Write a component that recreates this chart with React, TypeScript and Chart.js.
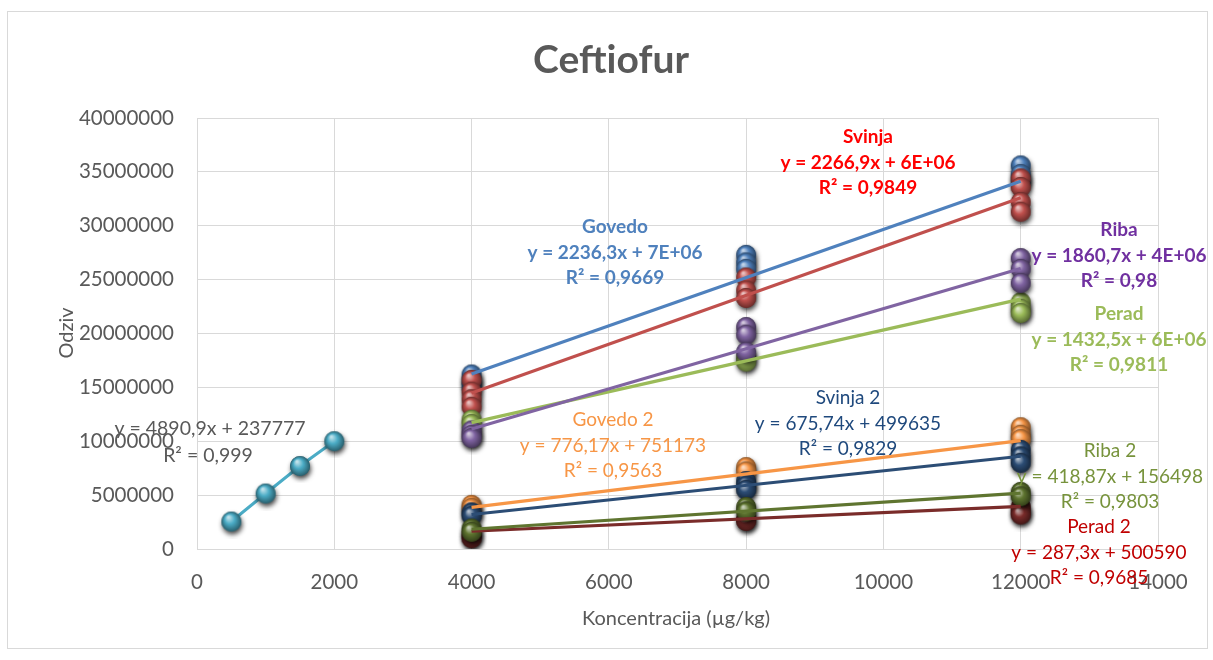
import React, { useEffect, useRef } from "react";
import { Chart, registerables } from "chart.js";
Chart.register(...registerables);

// ---- data ----
const concentrations = [4000, 8000, 12000];
const seriesNames = ["Govedo", "Svinja", "Riba", "Perad", "Govedo 2", "Svinja 2", "Riba 2", "Perad 2"];
// replicate responses at each concentration (4000, 8000, 12000)
const govedo = [[16.2e6, 15.6e6, 15.1e6], [27.3e6, 26.6e6, 26.0e6], [35.6e6, 34.8e6, 34.2e6]];
const svinja = [[15.7e6, 14.6e6, 13.9e6, 13.2e6], [25.2e6, 24.0e6, 23.3e6], [34.4e6, 33.6e6, 32.2e6, 31.3e6]];
const riba = [[11.0e6, 10.6e6, 10.3e6], [20.6e6, 19.9e6, 18.3e6], [27.0e6, 26.0e6, 24.7e6]];
const perad = [[12.0e6, 11.6e6], [17.8e6, 17.4e6], [22.9e6, 22.3e6, 21.9e6]];
const govedo2 = [[4.1e6, 3.8e6], [7.6e6, 7.2e6], [11.3e6, 10.6e6, 10.2e6]];
const svinja2 = [[3.4e6, 3.1e6], [6.3e6, 5.9e6, 5.5e6], [9.2e6, 8.6e6, 8.0e6]];
const riba2 = [[1.9e6, 1.6e6], [3.9e6, 3.5e6], [5.3e6, 4.9e6]];
const perad2 = [[1.3e6, 1.0e6], [2.8e6, 2.6e6], [3.9e6, 3.5e6, 3.2e6]];
const seriesValues = [govedo, svinja, riba, perad, govedo2, svinja2, riba2, perad2];

const trendSlopes = [2236.3, 2266.9, 1860.7, 1432.5, 776.17, 675.74, 418.87, 287.3];
const trendIntercepts = [7.3e6, 5.4e6, 3.7e6, 6.0e6, 751173, 499635, 156498, 500590];
const trendR2 = ["0,9669", "0,9849", "0,98", "0,9811", "0,9563", "0,9829", "0,9803", "0,9685"];
const trendEquations = [
  "y = 2236,3x + 7E+06",
  "y = 2266,9x + 6E+06",
  "y = 1860,7x + 4E+06",
  "y = 1432,5x + 6E+06",
  "y = 776,17x + 751173",
  "y = 675,74x + 499635",
  "y = 418,87x + 156498",
  "y = 287,3x + 500590",
];

const calX = [500, 1000, 1500, 2000];
const calY = [2.55e6, 5.15e6, 7.7e6, 10.0e6];
const calEquation = "y = 4890,9x + 237777";
const calR2 = "0,999";

const xTicks = [0, 2000, 4000, 6000, 8000, 10000, 12000, 14000];
const yTicks = [0, 5e6, 10e6, 15e6, 20e6, 25e6, 30e6, 35e6, 40e6];

// ---- styles ----
const markerColors = ["#4F81BD", "#C0504D", "#8064A2", "#9BBB59", "#F79646", "#2C4D75", "#5F7530", "#7A2C2A"];
const labelColors = ["#4F81BD", "#FF0000", "#7030A0", "#9BBB59", "#F79646", "#1F497D", "#77933C", "#C00000"];
const labelBold = [true, true, true, true, false, false, false, false];
// drawing order of marker series (lower = drawn later, on top)
const markerOrder = [10, 9, 7, 8, 6, 5, 3, 4];
// label centre x and first line centre y (pixels)
const labelPos = [
  [615, 227], [868, 137], [1119, 230], [1119, 314],
  [613, 420], [848, 398], [1110, 451], [1099, 527],
];
const FONT = "Lato, 'Open Sans', sans-serif";
const TEXT = "#595959";

function shade(hex: string, f: number) {
  const n = parseInt(hex.slice(1), 16);
  let r = (n >> 16) & 255, g = (n >> 8) & 255, b = n & 255;
  if (f >= 0) { r += (255 - r) * f; g += (255 - g) * f; b += (255 - b) * f; }
  else { r *= 1 + f; g *= 1 + f; b *= 1 + f; }
  return `rgb(${Math.round(r)},${Math.round(g)},${Math.round(b)})`;
}

function sphere(color: string, r: number) {
  const pad = 7;
  const size = Math.ceil(2 * (r + pad));
  const c = document.createElement("canvas");
  c.width = size; c.height = size;
  const g = c.getContext("2d")!;
  const cx = size / 2, cy = size / 2;
  g.save();
  g.shadowColor = "rgba(0,0,0,0.75)";
  g.shadowBlur = 5; g.shadowOffsetX = 1; g.shadowOffsetY = 3;
  g.beginPath(); g.arc(cx, cy, r, 0, Math.PI * 2); g.fillStyle = shade(color, -0.4); g.fill();
  g.restore();
  const grad = g.createRadialGradient(cx - r * 0.3, cy - r * 0.45, r * 0.08, cx, cy, r);
  grad.addColorStop(0, shade(color, 0.65));
  grad.addColorStop(0.45, color);
  grad.addColorStop(1, shade(color, -0.45));
  g.beginPath(); g.arc(cx, cy, r, 0, Math.PI * 2); g.fillStyle = grad; g.fill();
  return c;
}

export default function App() {
  const ref = useRef<HTMLCanvasElement>(null);
  useEffect(() => {
    document.body.style.margin = "0";
    document.body.style.overflow = "hidden";
    const datasets: any[] = [];
    seriesValues.forEach((vals, i) => {
      const pts: { x: number; y: number }[] = [];
      vals.forEach((reps, j) => reps.forEach((v) => pts.push({ x: concentrations[j], y: v })));
      datasets.push({
        label: seriesNames[i],
        data: pts,
        pointStyle: sphere(markerColors[i], 10),
        pointRadius: 10,
        showLine: false,
        order: markerOrder[i],
      });
      const x0 = concentrations[0], x1 = concentrations[concentrations.length - 1];
      datasets.push({
        label: seriesNames[i] + " trend",
        data: [
          { x: x0, y: trendSlopes[i] * x0 + trendIntercepts[i] },
          { x: x1, y: trendSlopes[i] * x1 + trendIntercepts[i] },
        ],
        showLine: true,
        borderColor: markerColors[i],
        borderWidth: 3.2,
        pointRadius: 0,
        order: 1,
      });
    });
    datasets.push({
      label: "Kalibracija",
      data: calX.map((x, k) => ({ x, y: calY[k] })),
      showLine: true,
      borderColor: "#4BACC6",
      borderWidth: 3,
      pointStyle: sphere("#4BACC6", 10),
      pointRadius: 10,
      order: 0,
    });

    const textPlugin = {
      id: "texts",
      afterDraw(chart: any) {
        const ctx = chart.ctx as CanvasRenderingContext2D;
        ctx.save();
        ctx.strokeStyle = "#D9D9D9";
        ctx.lineWidth = 1;
        ctx.strokeRect(7.5, 11.5, 1200, 637);
        ctx.textAlign = "center";
        ctx.textBaseline = "middle";
        ctx.fillStyle = TEXT;
        ctx.font = `bold 39px ${FONT}`;
        ctx.fillText("Ceftiofur", 611, 60);
        ctx.font = `20px ${FONT}`;
        ctx.fillText("Koncentracija (µg/kg)", 676, 619);
        ctx.save();
        ctx.translate(67, 333);
        ctx.rotate(-Math.PI / 2);
        ctx.fillText("Odziv", 0, 0);
        ctx.restore();
        // calibration label
        ctx.fillStyle = TEXT;
        ctx.font = `19.5px ${FONT}`;
        ctx.fillText(calEquation, 210, 429);
        ctx.fillText("R² = " + calR2, 208, 456);
        seriesNames.forEach((name, i) => {
          const [cx, cy] = labelPos[i];
          ctx.fillStyle = labelColors[i];
          ctx.font = `${labelBold[i] ? "bold " : ""}19px ${FONT}`;
          ctx.fillText(name, cx, cy);
          ctx.fillText(trendEquations[i], cx, cy + 25.5);
          ctx.fillText("R² = " + trendR2[i], cx, cy + 51);
        });
        ctx.restore();
      },
    };

    const chart = new Chart(ref.current!, {
      type: "scatter",
      data: { datasets },
      options: {
        animation: false,
        responsive: false,
        layout: { padding: { left: 0, right: 55, top: 118, bottom: 0 } },
        plugins: { legend: { display: false }, tooltip: { enabled: false } },
        scales: {
          x: {
            type: "linear",
            min: 0,
            max: 14000,
            afterBuildTicks: (s: any) => { s.ticks = xTicks.map((v) => ({ value: v })); },
            afterFit: (s: any) => { s.height = 111; },
            ticks: { color: TEXT, font: { family: FONT, size: 20.5 }, padding: 21, callback: (v: any) => String(v) },
            grid: { color: "#D9D9D9", lineWidth: 1, drawTicks: false },
            border: { color: "#D9D9D9" },
          },
          y: {
            type: "linear",
            min: 0,
            max: 40000000,
            afterBuildTicks: (s: any) => { s.ticks = yTicks.map((v) => ({ value: v })); },
            afterFit: (s: any) => { s.width = 197; },
            ticks: { color: TEXT, font: { family: FONT, size: 20.5 }, padding: 23, callback: (v: any) => String(v) },
            grid: { color: "#D9D9D9", lineWidth: 1, drawTicks: false },
            border: { color: "#D9D9D9" },
          },
        },
      },
      plugins: [textPlugin],
    });
    return () => chart.destroy();
  }, []);
  return <canvas ref={ref} width={1213} height={660} style={{ display: "block" }} />;
}
